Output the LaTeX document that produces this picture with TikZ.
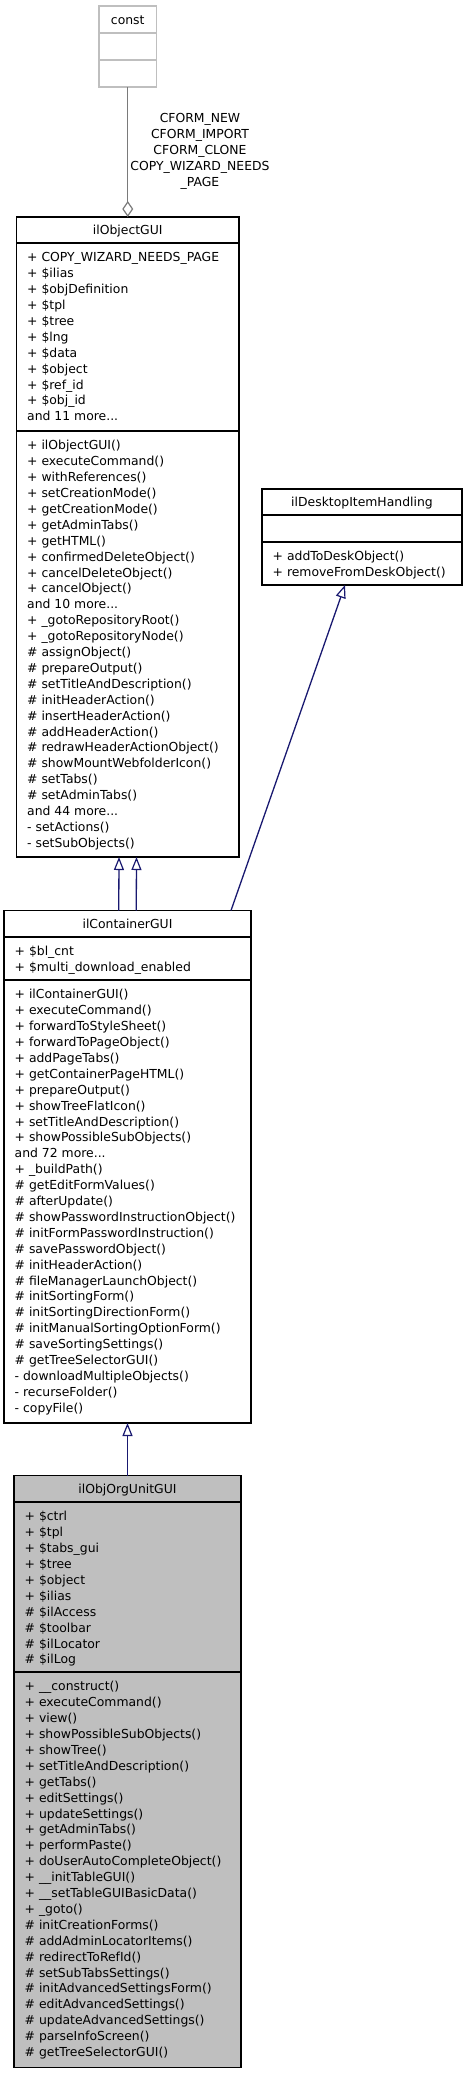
\documentclass[tikz,border=0pt]{standalone}
\usepackage{fontspec}
\setmainfont{DejaVu Sans}
\usetikzlibrary{arrows.meta}
\definecolor{edgeblue}{HTML}{191970}
\definecolor{constline}{HTML}{BFBFBF}
\definecolor{usegray}{HTML}{7A7A7A}
\definecolor{focusfill}{HTML}{BFBFBF}
\newcommand\tdots{...}
\begin{document}
\begin{tikzpicture}[x=1pt,y=-1pt,
  every node/.style={font=\fontsize{12.4}{15.9}\selectfont},
  classbox/.style={draw=black, line width=1.1pt, fill=white, inner sep=0pt, outer sep=0pt, anchor=north west},
  divider/.style={draw=black, line width=1.1pt},
  member/.style={anchor=base west, inner sep=0pt},
  title/.style={anchor=base, inner sep=0pt},
  inherit/.style={draw=edgeblue, line width=1.3pt, -{Triangle[open, length=13pt, width=10pt, line width=1.2pt]}},
  usage/.style={draw=usegray, line width=1.4pt, -{Diamond[open, length=16pt, width=11pt, line width=1.2pt]}}
]
\useasboundingbox (0,0) rectangle (468,2075);

% ---- const ----
\node[classbox, draw=constline, minimum width=57.5pt, minimum height=81pt] (const) at (99,6) {};
\draw[draw=constline, line width=1.1pt] (const.west |- 0,33) -- (const.east |- 0,33);
\draw[draw=constline, line width=1.1pt] (const.west |- 0,60) -- (const.east |- 0,60);
\node[title] (constT) at (127.75,24.1) {const};

% ---- ilObjectGUI ----
\node[classbox, minimum width=222.5pt, minimum height=640pt] (obj) at (16.5,217) {};
\draw[divider] (obj.west |- 0,243) -- (obj.east |- 0,243);
\draw[divider] (obj.west |- 0,431) -- (obj.east |- 0,431);
\node[title] (objT) at (127.75,234.6) {ilObjectGUI};
\foreach \t [count=\i] in {
 {+ COPY\_WIZARD\_NEEDS\_PAGE},{+ \$ilias},{+ \$objDefinition},{+ \$tpl},{+ \$tree},{+ \$lng},
 {+ \$data},{+ \$object},{+ \$ref\_id},{+ \$obj\_id},{and 11 more\tdots}}
  \node[member] (oa\i) at ({27},{257.2+4.6+(\i-1)*15.9}) {\t};
\foreach \t [count=\i] in {
 {+ ilObjectGUI()},{+ executeCommand()},{+ withReferences()},{+ setCreationMode()},
 {+ getCreationMode()},{+ getAdminTabs()},{+ getHTML()},{+ confirmedDeleteObject()},
 {+ cancelDeleteObject()},{+ cancelObject()},{and 10 more\tdots},{+ \_gotoRepositoryRoot()},
 {+ \_gotoRepositoryNode()},{\# assignObject()},{\# prepareOutput()},{\# setTitleAndDescription()},
 {\# initHeaderAction()},{\# insertHeaderAction()},{\# addHeaderAction()},
 {\# redrawHeaderActionObject()},{\# showMountWebfolderIcon()},{\# setTabs()},{\# setAdminTabs()},
 {and 44 more\tdots},{- setActions()},{- setSubObjects()}}
  \node[member] (om\i) at ({27},{445.2+4.6+(\i-1)*15.9}) {\t};

% ---- ilDesktopItemHandling ----
\node[classbox, minimum width=200pt, minimum height=96pt] (dih) at (262,489) {};
\draw[divider] (dih.west |- 0,515) -- (dih.east |- 0,515);
\draw[divider] (dih.west |- 0,542) -- (dih.east |- 0,542);
\node[title] (dihT) at (362,506.6) {ilDesktopItemHandling};
\foreach \t [count=\i] in {{+ addToDeskObject()},{+ removeFromDeskObject()}}
  \node[member] (dm\i) at ({272.5},{556.2+4.6+(\i-1)*15.9}) {\t};

% ---- ilContainerGUI ----
\node[classbox, minimum width=247pt, minimum height=512.5pt] (cont) at (4,910.5) {};
\draw[divider] (cont.west |- 0,937) -- (cont.east |- 0,937);
\draw[divider] (cont.west |- 0,980) -- (cont.east |- 0,980);
\node[title] (contT) at (127.5,928.1) {ilContainerGUI};
\foreach \t [count=\i] in {{+ \$bl\_cnt},{+ \$multi\_download\_enabled}}
  \node[member] (ca\i) at ({14.5},{951.2+4.6+(\i-1)*15.9}) {\t};
\foreach \t [count=\i] in {
 {+ ilContainerGUI()},{+ executeCommand()},{+ forwardToStyleSheet()},{+ forwardToPageObject()},
 {+ addPageTabs()},{+ getContainerPageHTML()},{+ prepareOutput()},{+ showTreeFlatIcon()},
 {+ setTitleAndDescription()},{+ showPossibleSubObjects()},{and 72 more\tdots},{+ \_buildPath()},
 {\# getEditFormValues()},{\# afterUpdate()},{\# showPasswordInstructionObject()},
 {\# initFormPasswordInstruction()},{\# savePasswordObject()},{\# initHeaderAction()},
 {\# fileManagerLaunchObject()},{\# initSortingForm()},{\# initSortingDirectionForm()},
 {\# initManualSortingOptionForm()},{\# saveSortingSettings()},{\# getTreeSelectorGUI()},
 {- downloadMultipleObjects()},{- recurseFolder()},{- copyFile()}}
  \node[member] (cm\i) at ({14.5},{994.2+4.6+(\i-1)*15.9}) {\t};

% ---- ilObjOrgUnitGUI ----
\node[classbox, fill=focusfill, minimum width=227pt, minimum height=592pt] (org) at (14,1475.5) {};
\draw[divider] (org.west |- 0,1502) -- (org.east |- 0,1502);
\draw[divider] (org.west |- 0,1672) -- (org.east |- 0,1672);
\node[title] (orgT) at (127.5,1493.1) {ilObjOrgUnitGUI};
\foreach \t [count=\i] in {
 {+ \$ctrl},{+ \$tpl},{+ \$tabs\_gui},{+ \$tree},{+ \$object},{+ \$ilias},
 {\# \$ilAccess},{\# \$toolbar},{\# \$ilLocator},{\# \$ilLog}}
  \node[member] (ga\i) at ({24.5},{1516.2+4.6+(\i-1)*15.9}) {\t};
\foreach \t [count=\i] in {
 {+ \_\_construct()},{+ executeCommand()},{+ view()},{+ showPossibleSubObjects()},{+ showTree()},
 {+ setTitleAndDescription()},{+ getTabs()},{+ editSettings()},{+ updateSettings()},
 {+ getAdminTabs()},{+ performPaste()},{+ doUserAutoCompleteObject()},{+ \_\_initTableGUI()},
 {+ \_\_setTableGUIBasicData()},{+ \_goto()},{\# initCreationForms()},{\# addAdminLocatorItems()},
 {\# redirectToRefId()},{\# setSubTabsSettings()},{\# initAdvancedSettingsForm()},
 {\# editAdvancedSettings()},{\# updateAdvancedSettings()},{\# parseInfoScreen()},
 {\# getTreeSelectorGUI()}}
  \node[member] (gm\i) at ({24.5},{1686.2+4.6+(\i-1)*15.9}) {\t};

% ---- connectors ----
\draw[usage] (const.south) -- (obj.north);
\node[align=center, inner sep=0pt, font=\fontsize{12.4}{16}\selectfont] (lbl) at (200,151.7)
  {CFORM\_NEW\\CFORM\_IMPORT\\CFORM\_CLONE\\COPY\_WIZARD\_NEEDS\\\_PAGE};
\draw[inherit] ([xshift=-8.75pt]cont.north) -- ([xshift=-8.75pt]obj.south);
\draw[inherit] ([xshift=8.75pt]cont.north) -- ([xshift=8.75pt]obj.south);
\draw[inherit] ([xshift=103.5pt]cont.north) -- ([xshift=-17pt]dih.south);
\draw[inherit] (org.north) -- (cont.south);
\end{tikzpicture}
\end{document}
